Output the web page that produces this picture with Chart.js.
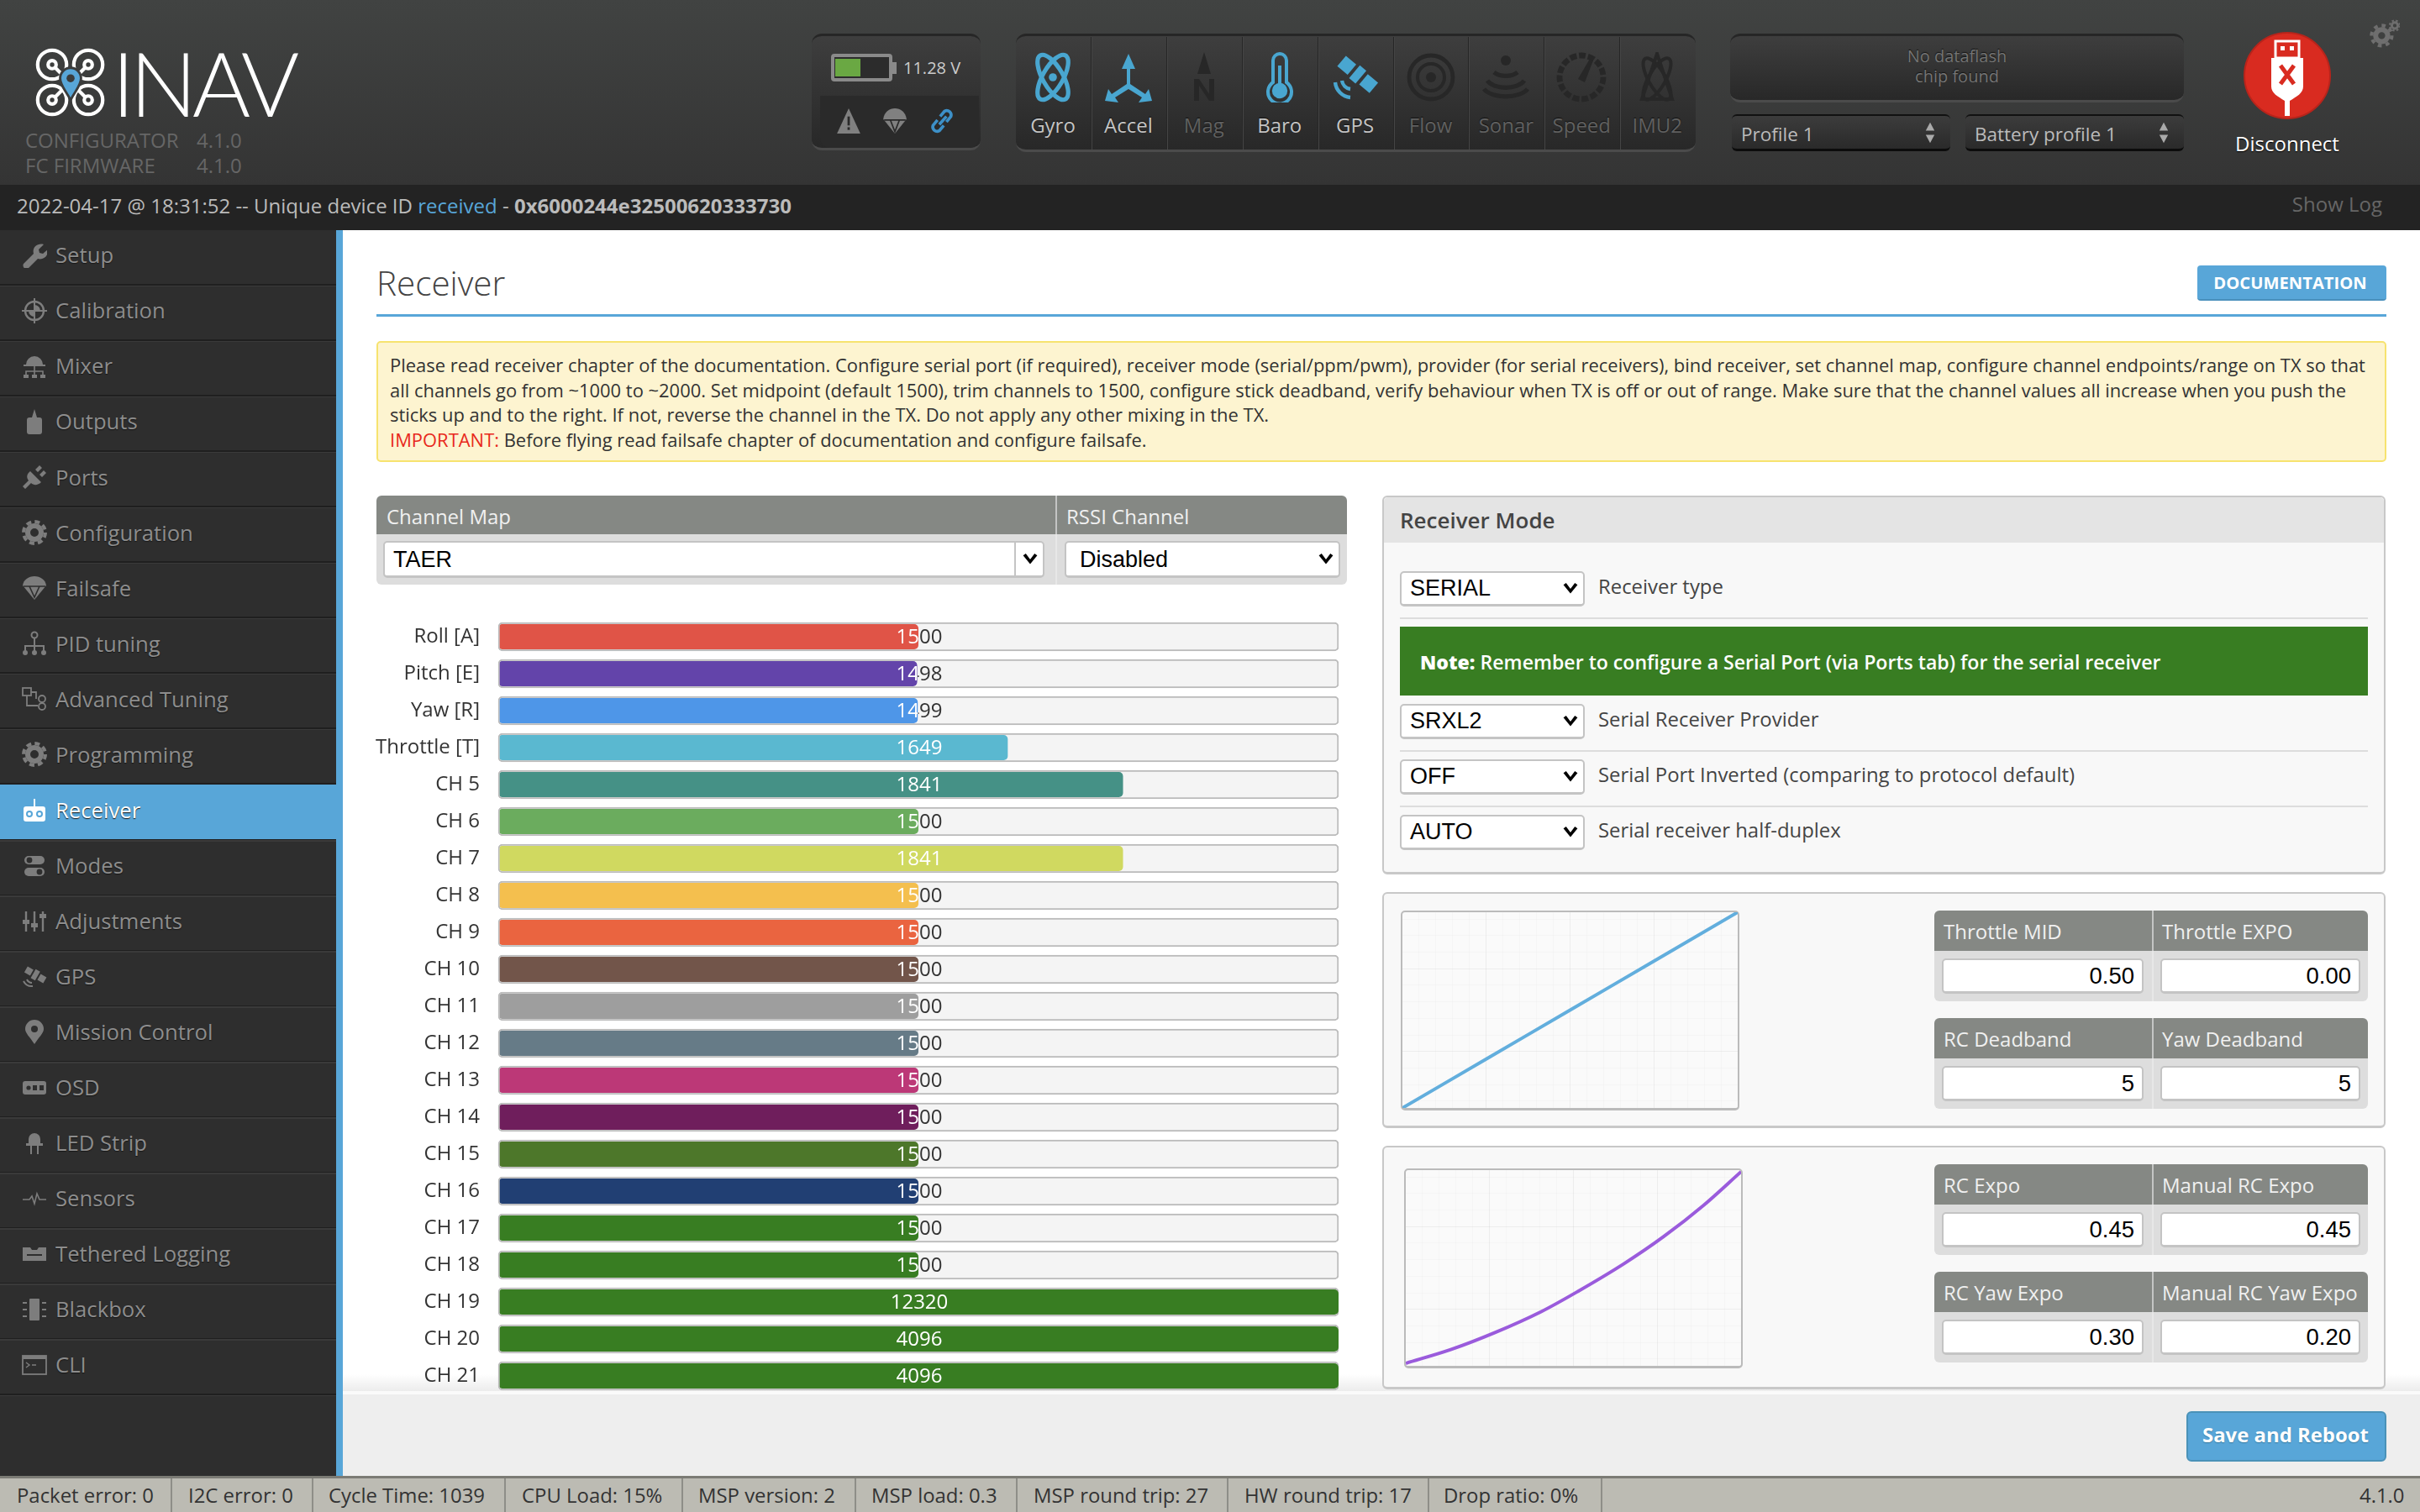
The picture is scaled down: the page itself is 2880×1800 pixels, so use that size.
<!DOCTYPE html>
<html>
<head>
<meta charset="utf-8">
<title>INAV - Receiver</title>
<script src="https://cdn.jsdelivr.net/npm/chart.js@4"></script>
<style>
html, body { margin: 0; width: 2880px; height: 1800px; overflow: hidden; background: #fff; font-family: "Open Sans", sans-serif; color: #333; }
.a { position: absolute; box-sizing: border-box; white-space: pre; }
canvas { position: absolute; display: block; }
</style>
</head>
<body>
<script>
// Channel data read from the receiver tab
const channelLabels = ['Roll [A]', 'Pitch [E]', 'Yaw [R]', 'Throttle [T]', 'CH 5', 'CH 6', 'CH 7', 'CH 8', 'CH 9', 'CH 10', 'CH 11', 'CH 12', 'CH 13', 'CH 14', 'CH 15', 'CH 16', 'CH 17', 'CH 18', 'CH 19', 'CH 20', 'CH 21'];
const channelValues = [1500, 1498, 1499, 1649, 1841, 1500, 1841, 1500, 1500, 1500, 1500, 1500, 1500, 1500, 1500, 1500, 1500, 1500, 12320, 4096, 4096];
const channelMin = 800;
const channelMax = 2200;

// Throttle and RC expo curves
const throttleCurveX = [0, 0.25, 0.5, 0.75, 1];
const throttleCurveY = [0, 0.25, 0.5, 0.75, 1];
const expoCurveX = [0, 0.134, 0.266, 0.404, 0.513, 0.651, 0.769, 0.888, 1];
const expoCurveY = [0.013, 0.083, 0.17, 0.277, 0.38, 0.522, 0.66, 0.82, 0.992];
const curveGridX = [0.05, 0.1, 0.15, 0.2, 0.25, 0.3, 0.35, 0.4, 0.45, 0.5, 0.55, 0.6, 0.65, 0.7, 0.75, 0.8, 0.85, 0.9, 0.95];
const curveGridY = [0.036, 0.12, 0.205, 0.289, 0.373, 0.458, 0.542, 0.627, 0.711, 0.795, 0.88, 0.964];
const curveMajorX = [0.25, 0.5, 0.75];
const curveMajorY = [0.289, 0.711];

// Interface text
const menuItems = ['Setup', 'Calibration', 'Mixer', 'Outputs', 'Ports', 'Configuration', 'Failsafe', 'PID tuning', 'Advanced Tuning', 'Programming', 'Receiver', 'Modes', 'Adjustments', 'GPS', 'Mission Control', 'OSD', 'LED Strip', 'Sensors', 'Tethered Logging', 'Blackbox', 'CLI'];
const sensorNames = ['Gyro', 'Accel', 'Mag', 'Baro', 'GPS', 'Flow', 'Sonar', 'Speed', 'IMU2'];
const statusItems = ['Packet error: 0', 'I2C error: 0', 'Cycle Time: 1039', 'CPU Load: 15%', 'MSP version: 2', 'MSP load: 0.3', 'MSP round trip: 27', 'HW round trip: 17', 'Drop ratio: 0%'];

const channelColors = ['#e05447', '#6344aa', '#4e96e8', '#5ab8d0', '#459186', '#6bac5e', '#d0d960', '#f4bf4e', '#ea6440', '#72554a', '#9e9e9e', '#667b87', '#bc3877', '#6f1e5c', '#4d772a', '#213f73', '#387d22', '#387d22', '#387d22', '#387d22', '#387d22'];
const blue = '#58a6d8';

// Small helpers, everything on the page is placed on the 2880x1800 grid
function box(x, y, w, h, css, html) {
    const el = document.createElement('div');
    el.className = 'a';
    el.style.cssText = `left:${x}px;top:${y}px;width:${w}px;height:${h}px;${css || ''}`;
    if (html) el.innerHTML = html;
    document.body.appendChild(el);
    return el;
}
function text(x, cy, str, size, color, css) {
    const el = document.createElement('div');
    el.className = 'a';
    el.style.cssText = `left:${x}px;top:${cy - size}px;height:${size * 2}px;line-height:${size * 2}px;font-size:${size}px;color:${color};${css || ''}`;
    el.innerHTML = str;
    document.body.appendChild(el);
    return el;
}
function centered(x, w, cy, str, size, color, css) {
    return text(x, cy, str, size, color, `width:${w}px;text-align:center;${css || ''}`);
}
function icon(x, y, size, color, inner) {
    return box(x, y, size, size, `color:${color};`, `<svg width="${size}" height="${size}" viewBox="0 0 30 30" fill="currentColor" stroke="none" style="display:block">${inner}</svg>`);
}
const chevron = '<path d="M6 10l9 11 9-11-3.4-2.4L15 15 9.4 7.6z"/>';
function select(x, y, w, h, label, pad) {
    box(x, y, w, h, 'background:#fff;border:2px solid #c4c4c4;border-bottom-width:3px;border-radius:5px;');
    text(x + (pad || 12), y + h - 22, label, 27, '#000', 'font-family:"Liberation Sans",Arial,sans-serif;');
    icon(x + w - 31, y + h / 2 - 14, 28, '#000', chevron);
}

// Header
box(0, 0, 2880, 220, 'background:linear-gradient(#414342,#343434);');
box(0, 220, 2880, 54, 'background:#232323;');
box(0, 274, 400, 1484, 'background:#2e2e2e;');
box(400, 274, 8, 1484, `background:${blue};`);

// Logo
box(41, 57, 86, 82, '', `<svg width="86" height="82" viewBox="0 0 90 84" fill="none" stroke="#fff" stroke-width="4.4">
<circle cx="22" cy="20" r="18"/><circle cx="22" cy="20" r="5"/><circle cx="67" cy="20" r="18"/><circle cx="67" cy="20" r="5"/>
<circle cx="22" cy="64" r="18"/><circle cx="22" cy="64" r="5"/><circle cx="67" cy="64" r="18"/><circle cx="67" cy="64" r="5"/>
<path d="M26 24l16 16M63 24l-16 16M26 60l16-16M63 60l-16-16"/>
<path d="M45 64c-6-12-13-18-13-27a13 13 0 0 1 26 0c0 9-7 15-13 27z" fill="${blue}" stroke="#3b3c3c" stroke-width="3"/><circle cx="45" cy="37" r="5" fill="#3b3c3c" stroke="none"/></svg>`);
text(133, 98, 'INAV', 106, '#fff', 'font-family:Lato,sans-serif;font-weight:300;letter-spacing:-6px;');
text(30, 167, 'CONFIGURATOR', 24, '#666');
text(234, 167, '4.1.0', 24, '#666');
text(30, 197, 'FC FIRMWARE', 24, '#666');
text(234, 197, '4.1.0', 24, '#666');

// Battery panel
const panelCss = 'background:linear-gradient(#3e3e3e,#282828);border-radius:12px;border-top:3px solid #262626;border-bottom:3px solid #4b4b4b;';
box(966, 40, 201, 139, panelCss);
box(976, 114, 189, 62, 'background:#2a2a2a;border-radius:0 0 12px 12px;');
box(989, 64, 73, 33, 'border:4px solid #8a8a8a;border-radius:4px;background:#2c2c2c;');
box(1062, 74, 5, 14, 'background:#8a8a8a;');
box(994, 70, 30, 21, 'background:#6aa843;');
text(1075, 81, '11.28 V', 20, '#ccc');
icon(994, 128, 32, '#808080', '<path d="M15 1l13 28H2z"/><rect x="13.7" y="10" width="2.6" height="10" fill="#2a2a2a"/><rect x="13.7" y="22" width="2.6" height="3" fill="#2a2a2a"/>');
icon(1049, 128, 32, '#808080', '<path d="M2 13C3 5 9 1 15 1s12 4 13 12l-13 16z"/><path d="M3 14h24M10 14l5 13 5-13" stroke="#2a2a2a" stroke-width="1.6" fill="none"/>');
icon(1105, 128, 32, '#3d90c8', '<path d="M12 19l8-9M10 14l-5 6a5 5 0 0 0 7 6l5-6M20 16l5-6a5 5 0 0 0-7-6l-5 6" stroke="#3d90c8" stroke-width="3.4" fill="none"/>');

// Sensor panel, separators are spaced one cell apart
box(1209, 40, 809, 141, panelCss);
const sensorOn = '#49a6d0';
const sensorOff = '#272727';
const sensorIcons = [
    '<g fill="none" stroke="currentColor" stroke-width="2.6"><ellipse cx="15" cy="15" rx="6" ry="15" transform="rotate(30 15 15)"/><ellipse cx="15" cy="15" rx="6" ry="15" transform="rotate(-30 15 15)"/></g><circle cx="15" cy="15" r="2.4"/>',
    '<path d="M15 1l4 9h-3v9l9 6 2-3 2 7-8 1 2-3-8-5-8 5 2 3-8-1 2-7 2 3 9-6v-9h-3z"/>',
    '<path d="M15 0l4 13h-8zM9 16h3l6 9v-9h3v13h-3l-6-9v9H9z"/>',
    '<path d="M15 1a4 4 0 0 1 4 4v13a7 7 0 1 1-8 0V5a4 4 0 0 1 4-4z" fill="none" stroke="currentColor" stroke-width="2"/><circle cx="15" cy="23" r="4.6"/><rect x="14" y="8" width="2" height="12"/>',
    '<g transform="rotate(40 16 13)"><rect x="4" y="9" width="8" height="8"/><rect x="14" y="8" width="5" height="10"/><rect x="21" y="9" width="8" height="8"/></g><path d="M3 18a10 10 0 0 0 9 9M7 17a6 6 0 0 0 5 5" fill="none" stroke="currentColor" stroke-width="2.2"/>',
    '<g fill="none" stroke="currentColor"><circle cx="15" cy="15" r="13" stroke-width="2.4"/><circle cx="15" cy="15" r="8" stroke-width="2"/></g><circle cx="15" cy="15" r="3"/>',
    '<circle cx="15" cy="5" r="3"/><path d="M8 12a9 6 0 0 0 14 0M4 17a12 7 0 0 0 22 0M2 22a14 7 0 0 0 26 0" fill="none" stroke="currentColor" stroke-width="2.6"/>',
    '<circle cx="15" cy="15" r="13" fill="none" stroke="currentColor" stroke-width="3.4" stroke-dasharray="4 1.4"/><path d="M13 16l7-12 2 1-5 13z"/>',
    '<g fill="none" stroke="currentColor" stroke-width="2"><ellipse cx="15" cy="16" rx="5" ry="14" transform="rotate(30 15 16)"/><ellipse cx="15" cy="16" rx="5" ry="14" transform="rotate(-30 15 16)"/><path d="M15 1l9 27H6z"/></g>'
];
const sensorActive = [true, true, false, true, true, false, false, false, false];
sensorNames.forEach(function(name, i) {
    const x = 1209 + i * 89.9;
    if (i > 0) box(x - 1, 44, 2, 134, 'background:#262626;border-right:1px solid #454545;');
    const on = sensorActive[i];
    icon(x + 14, 62, 60, on ? sensorOn : sensorOff, sensorIcons[i]);
    centered(x - 1, 90, 149, name, 24, on ? '#c4c4c4' : '#606060', 'text-shadow:0 -1px 1px #111;');
});

// Dataflash and profile selectors
box(2059, 40, 540, 82, panelCss);
centered(2059, 540, 67, 'No dataflash', 20, '#747474', 'text-shadow:0 -1px 1px #111;');
centered(2059, 540, 91, 'chip found', 20, '#747474', 'text-shadow:0 -1px 1px #111;');
[[2061, 'Profile 1'], [2339, 'Battery profile 1']].forEach(function(p) {
    box(p[0], 136, 260, 44, 'background:linear-gradient(#3c3c3c,#2a2a2a);border-radius:6px;border-top:2px solid #111;border-bottom:3px solid #0c0c0c;');
    text(p[0] + 11, 159, p[1], 22.5, '#bbb');
    icon(p[0] + 223, 145, 26, '#aaa', '<path d="M15 1l6 11H9zM15 29l6-11H9z"/>');
});

// Disconnect button
box(2670, 38, 104, 104, 'background:#d92b20;border-radius:50%;border:2px solid #b8241b;');
box(2698, 46, 48, 92, '', `<svg width="48" height="92" viewBox="0 0 48 92"><rect x="10" y="3" width="28" height="20" fill="none" stroke="#fff" stroke-width="3"/><rect x="16" y="9" width="5" height="5" fill="#fff"/><rect x="27" y="9" width="5" height="5" fill="#fff"/><path d="M5 23h38v34c0 8-8 12-16 17v18h-6V74C13 69 5 65 5 57z" fill="#fff"/><path d="M16 32l16 22M32 32L16 54" stroke="#d92b20" stroke-width="5"/></svg>`);
centered(2622, 200, 171, 'Disconnect', 24, '#fff', 'text-shadow:0 1px 1px #000;');
icon(2820, 22, 36, '#6e6e6e', '<circle cx="12" cy="17" r="6" fill="none" stroke="currentColor" stroke-width="5"/><circle cx="12" cy="17" r="10" fill="none" stroke="currentColor" stroke-width="3.5" stroke-dasharray="3.8 4"/><circle cx="25" cy="7" r="3" fill="none" stroke="currentColor" stroke-width="2.4"/><circle cx="25" cy="7" r="5" fill="none" stroke="currentColor" stroke-width="1.8" stroke-dasharray="2 2"/>');

// Log line
text(20, 245, '2022-04-17 @ 18:31:52 -- Unique device ID <span style="color:#58a6d8">received</span> - <b>0x6000244e32500620333730</b>', 24, '#bbb');
text(2722, 243, 'Show Log', 24, '#666', 'width:113px;text-align:right;');

// Sidebar menu
const menuIcons = [
    '<path d="M2 25L14 13c-2-7 4-13 12-11l-6 6 1 4 4 1 6-5c1 8-6 13-12 11L7 31c-3 2-7-3-5-6z"/>',
    '<circle cx="15" cy="15" r="11" fill="none" stroke="currentColor" stroke-width="2.4"/><path d="M15 0v30M0 15h30" stroke="currentColor" stroke-width="2"/><path d="M15 8a7 7 0 0 1 7 7h-7zM15 22a7 7 0 0 1-7-7h7z"/>',
    '<path d="M5 13a10 10 0 0 1 20 0h3v2H2v-2z"/><path d="M15 15v5M5 26v-5h20v5M15 20v5" stroke="currentColor" stroke-width="1.6" fill="none"/><rect x="2" y="25" width="6" height="4"/><rect x="12" y="25" width="6" height="4"/><rect x="22" y="25" width="6" height="4"/>',
    '<path d="M15 0l3 10h3a3 3 0 0 1 3 3v14a3 3 0 0 1-3 3H9a3 3 0 0 1-3-3V13a3 3 0 0 1 3-3h3z"/>',
    '<path d="M10 8l13 13c-4 4-9 4-12 1l-7 7-3-3 7-7c-3-4-2-8 2-11zM16 6l5-5 3 3-5 5zM21 12l5-5 3 3-5 5z"/>',
    '<circle cx="15" cy="15" r="8" fill="none" stroke="currentColor" stroke-width="6"/><circle cx="15" cy="15" r="13" fill="none" stroke="currentColor" stroke-width="4" stroke-dasharray="6 4.2"/>',
    '<path d="M1 12C2 5 8 1 15 1s13 4 14 11L15 29z"/><path d="M2 13h26M9 13l6 13 6-13" stroke="#2e2e2e" stroke-width="1.6" fill="none"/>',
    '<circle cx="15" cy="5" r="3.5" fill="none" stroke="currentColor" stroke-width="2"/><path d="M15 8v9M4 24v-6h22v6M15 17v7" stroke="currentColor" stroke-width="2" fill="none"/><circle cx="4" cy="26" r="3"/><circle cx="15" cy="26" r="3"/><circle cx="26" cy="26" r="3"/>',
    '<g fill="none" stroke="currentColor" stroke-width="1.8"><rect x="1" y="2" width="10" height="9"/><path d="M11 7h6v8M6 11v12h13"/><circle cx="24" cy="15" r="4"/><circle cx="24" cy="24" r="4"/></g>',
    '<circle cx="15" cy="15" r="8" fill="none" stroke="currentColor" stroke-width="6"/><circle cx="15" cy="15" r="13" fill="none" stroke="currentColor" stroke-width="4" stroke-dasharray="6 4.2"/>',
    '<rect x="14" y="1" width="2" height="10"/><rect x="2" y="10" width="26" height="18" rx="3"/><circle cx="9" cy="19" r="3" fill="none" stroke="#58a6d8" stroke-width="2"/><circle cx="21" cy="19" r="3" fill="none" stroke="#58a6d8" stroke-width="2"/>',
    '<rect x="3" y="3" width="24" height="10" rx="5"/><rect x="3" y="17" width="24" height="10" rx="5"/><circle cx="9" cy="8" r="3.4" fill="#2e2e2e"/><circle cx="21" cy="22" r="3.4" fill="#2e2e2e"/>',
    '<path d="M5 3v24M15 3v24M25 3v24" stroke="currentColor" stroke-width="2.4"/><rect x="1" y="13" width="8" height="5"/><rect x="11" y="17" width="8" height="5"/><rect x="21" y="6" width="8" height="5"/>',
    '<g transform="rotate(30 17 13)"><rect x="3" y="9" width="8" height="8"/><rect x="13" y="7" width="6" height="12"/><rect x="21" y="9" width="8" height="8"/></g><path d="M2 20a11 11 0 0 0 11 6M6 18a7 7 0 0 0 6 4" fill="none" stroke="currentColor" stroke-width="2"/>',
    '<path d="M15 29C10 21 4 16 4 11a11 11 0 0 1 22 0c0 5-6 10-11 18z"/><circle cx="15" cy="11" r="4" fill="#2e2e2e"/>',
    '<rect x="1" y="7" width="28" height="16" rx="3"/><circle cx="8" cy="15" r="2.6" fill="#2e2e2e"/><rect x="13" y="12" width="5" height="6" fill="#2e2e2e"/><rect x="21" y="12" width="5" height="6" fill="#2e2e2e"/>',
    '<path d="M8 15V10a7 7 0 0 1 14 0v5h3v3H5v-3z"/><rect x="10" y="18" width="2" height="10"/><rect x="18" y="18" width="2" height="10"/>',
    '<path d="M1 16h8l3-4 3 9 3-12 3 7h8" fill="none" stroke="currentColor" stroke-width="1.6"/>',
    '<path d="M1 7h9l2 3h6l2-3h9v16H1z"/><rect x="6" y="15" width="18" height="2" fill="#2e2e2e"/>',
    '<rect x="9" y="2" width="12" height="26" rx="1"/><path d="M1 7h5M1 15h5M1 23h5M24 7h5M24 15h5M24 23h5" stroke="currentColor" stroke-width="2"/>',
    '<rect x="1" y="4" width="28" height="22" fill="none" stroke="currentColor" stroke-width="1.8"/><rect x="1" y="4" width="28" height="4"/><path d="M5 12l4 3-4 3M12 15h5" stroke="currentColor" stroke-width="1.4" fill="none"/>'
];
menuItems.forEach(function(name, i) {
    const top = 274 + i * 66.05;
    const active = name === 'Receiver';
    if (active) box(0, top - 0.5, 400, 65, `background:${blue};`);
    box(0, top + 64, 400, 1.5, 'background:#1f1f1f;');
    box(0, top + 65.5, 400, 1.5, 'background:#3a3a3a;');
    icon(26, top + 15, 30, active ? '#fff' : '#7d7d7d', menuIcons[i]);
    text(66, top + 30, name, 25.7, active ? '#fff' : '#8d8d8d', 'text-shadow:0 1px 1px #161616;');
});

// Main title and notice
text(448, 337, 'Receiver', 40.4, '#444', 'font-weight:300;');
box(448, 374, 2392, 3, `background:${blue};`);
box(2615, 316, 225, 42, `background:${blue};border-radius:4px;border-bottom:2px solid #4a90bc;`);
centered(2613, 225, 336, 'DOCUMENTATION', 20.2, '#fff', 'font-weight:700;');
box(448, 406, 2392, 144, 'background:#fdf4d0;border:2px solid #f7e36f;border-radius:5px;');
const noticeLines = [
    'Please read receiver chapter of the documentation. Configure serial port (if required), receiver mode (serial/ppm/pwm), provider (for serial receivers), bind receiver, set channel map, configure channel endpoints/range on TX so that',
    'all channels go from ~1000 to ~2000. Set midpoint (default 1500), trim channels to 1500, configure stick deadband, verify behaviour when TX is off or out of range. Make sure that the channel values all increase when you push the',
    'sticks up and to the right. If not, reverse the channel in the TX. Do not apply any other mixing in the TX.',
    '<span style="color:#e8291c">IMPORTANT:</span> Before flying read failsafe chapter of documentation and configure failsafe.'
];
noticeLines.forEach(function(line, i) { text(464, 435 + i * 29.5, line, 21.95, '#333'); });

// Channel map table
box(448, 590, 1155, 46, 'background:#858884;border-radius:6px 6px 0 0;');
box(448, 636, 1155, 60, 'background:#ddd;border-radius:0 0 6px 6px;');
box(1256, 590, 2, 106, 'background:#eee;opacity:.6;');
text(460, 615, 'Channel Map', 24, '#f0f0f0');
text(1269, 615, 'RSSI Channel', 24, '#f0f0f0');
select(456, 644, 787, 44, 'TAER');
box(1207, 646, 2, 40, 'background:#c4c4c4;');
select(1267, 644, 328, 44, 'Disabled', 18);

// Bottom fade of the scrolling area, under the panels and bars
box(408, 1636, 2472, 20, 'background:linear-gradient(rgba(240,240,240,0),#ececec);');

// Receiver mode panel
const panelBox = 'background:#f8f8f8;border:2px solid #c8c8c8;border-bottom-width:3px;border-radius:6px;';
box(1645, 590, 1194, 451, panelBox);
box(1647, 592, 1190, 54, 'background:#e4e4e4;border-radius:5px 5px 0 0;');
text(1666, 619, 'Receiver Mode', 26, '#444', 'font-weight:600;');
[[680, 'SERIAL', 'Receiver type'], [838, 'SRXL2', 'Serial Receiver Provider'], [904, 'OFF', 'Serial Port Inverted (comparing to protocol default)'], [970, 'AUTO', 'Serial receiver half-duplex']].forEach(function(row) {
    select(1666, row[0], 220, 42, row[1]);
    text(1902, row[0] + 18, row[2], 23.9, '#444');
});
[735, 893, 959].forEach(function(y) { box(1666, y, 1152, 2, 'background:#ddd;'); });
box(1666, 746, 1152, 82, 'background:#387d22;');
text(1690, 788, '<b>Note:</b> Remember to configure a Serial Port (via Ports tab) for the serial receiver', 23.1, '#fff', 'font-weight:600;');

// Curve panels and their tables
box(1645, 1062, 1194, 281, panelBox);
box(1645, 1364, 1194, 290, panelBox);
function inputTable(top, left, right) {
    box(2302, top, 516, 48, 'background:#858884;border-radius:6px 6px 0 0;');
    box(2302, top + 48, 516, 60, 'background:#ddd;border-radius:0 0 6px 6px;');
    box(2561, top, 2, 108, 'background:#eee;opacity:.6;');
    [[2311, 240, left], [2571, 238, right]].forEach(function(c) {
        box(c[0], top + 57, c[1], 42, 'background:#fff;border:2px solid #c4c4c4;border-bottom-width:3px;border-radius:5px;');
        text(c[0] + 11, top + 77, c[2][1], 27.5, '#000', `width:${c[1] - 22}px;text-align:right;font-family:"Liberation Sans",Arial,sans-serif;`);
    });
    text(2313, top + 25, left[0], 24, '#f0f0f0');
    text(2573, top + 25, right[0], 24, '#f0f0f0');
}
inputTable(1084, ['Throttle MID', '0.50'], ['Throttle EXPO', '0.00']);
inputTable(1212, ['RC Deadband', '5'], ['Yaw Deadband', '5']);
inputTable(1386, ['RC Expo', '0.45'], ['Manual RC Expo', '0.45']);
inputTable(1514, ['RC Yaw Expo', '0.30'], ['Manual RC Yaw Expo', '0.20']);

function curveChart(x, y, xs, ys, color) {
    box(x, y, 403, 238, 'background:#fafafa;border:2px solid #bbb;border-bottom-width:3px;border-radius:5px;');
    const canvas = document.createElement('canvas');
    canvas.width = 399;
    canvas.height = 233;
    canvas.style.left = (x + 2) + 'px';
    canvas.style.top = (y + 2) + 'px';
    document.body.appendChild(canvas);
    const gridScale = function(ticks, majors) {
        return {
            type: 'linear', min: 0, max: 1,
            border: { display: false },
            ticks: { display: false },
            afterBuildTicks: function(scale) { scale.ticks = ticks.map(v => ({ value: v })); },
            grid: {
                drawTicks: false,
                color: ctx => majors.includes(ctx.tick.value) ? 'rgba(0,0,0,0.05)' : 'rgba(0,0,0,0.02)'
            }
        };
    };
    new Chart(canvas.getContext('2d'), {
        type: 'line',
        data: { datasets: [{ data: xs.map((v, i) => ({ x: v, y: ys[i] })), borderColor: color, borderWidth: 4, pointRadius: 0, cubicInterpolationMode: 'monotone' }] },
        options: {
            responsive: false,
            animation: false,
            plugins: { legend: { display: false }, tooltip: { enabled: false } },
            scales: { x: gridScale(curveGridX, curveMajorX), y: gridScale(curveGridY, curveMajorY) }
        }
    });
}
curveChart(1667, 1084, throttleCurveX, throttleCurveY, '#62aedd');
curveChart(1671, 1391, expoCurveX, expoCurveY, '#9a5bdc');

// Channel bars. The label sits in the middle of the track and changes colour where the bar ends
const barLabels = {
    id: 'barLabels',
    afterDatasetsDraw: function(chart) {
        const ctx = chart.ctx;
        const area = chart.chartArea;
        const centre = (area.left + area.right) / 2 + 1;
        chart.getDatasetMeta(0).data.forEach(function(bar, i) {
            ctx.save();
            ctx.font = '24px "Open Sans"';
            ctx.textAlign = 'center';
            ctx.textBaseline = 'middle';
            ctx.save();
            ctx.beginPath();
            ctx.rect(bar.x, bar.y - 20, area.right - bar.x, 40);
            ctx.clip();
            ctx.fillStyle = '#333';
            ctx.fillText(channelValues[i], centre, bar.y + 1);
            ctx.restore();
            ctx.beginPath();
            ctx.rect(area.left, bar.y - 20, bar.x - area.left, 40);
            ctx.clip();
            ctx.fillStyle = '#fff';
            ctx.fillText(channelValues[i], centre, bar.y + 1);
            ctx.restore();
        });
    }
};
const barHolder = box(440, 736, 1160, 920, 'overflow:hidden;');
const barCanvas = document.createElement('canvas');
barCanvas.width = 1153;
barCanvas.height = 924;
barCanvas.style.left = '0px';
barCanvas.style.top = '0px';
barHolder.appendChild(barCanvas);
new Chart(barCanvas.getContext('2d'), {
    type: 'bar',
    data: {
        labels: channelLabels,
        datasets: [
            {
                label: 'Value',
                data: channelValues.map(v => Math.min(v, channelMax)),
                base: channelMin,
                backgroundColor: channelColors,
                borderColor: 'rgba(0,0,0,0)',
                borderWidth: { left: 2, right: 0, top: 0, bottom: 0 },
                borderSkipped: false,
                borderRadius: 5,
                barThickness: 30,
                grouped: false,
                order: 1,
                clip: false
            },
            {
                label: 'Range',
                data: channelValues.map(() => channelMax),
                base: channelMin,
                backgroundColor: '#f4f4f4',
                borderColor: '#bbb',
                borderWidth: 2,
                borderSkipped: false,
                borderRadius: 5,
                barThickness: 34,
                grouped: false,
                order: 2,
                clip: false
            }
        ]
    },
    options: {
        indexAxis: 'y',
        responsive: false,
        animation: false,
        layout: { padding: 0 },
        plugins: { legend: { display: false }, tooltip: { enabled: false } },
        scales: {
            x: { display: false, min: channelMin, max: channelMax },
            y: {
                // fixed gutter for the channel names, and no extra padding above or below the rows
                afterFit: function(scale) {
                    scale.width = 153;
                    scale.paddingTop = 0;
                    scale.paddingBottom = 0;
                },
                border: { display: false },
                grid: { display: false, drawTicks: false },
                ticks: { autoSkip: false, padding: 22, color: '#333', font: { family: 'Open Sans', size: 24 } }
            }
        }
    },
    plugins: [barLabels]
});

// Footer
box(408, 1656, 2472, 4, 'background:#fafafa;');
box(408, 1660, 2472, 97, 'background:#eee;');
box(2602, 1680, 238, 60, `background:${blue};border:2px solid #4a92b8;border-radius:6px;`);
centered(2601, 238, 1708, 'Save and Reboot', 23.9, '#fff', 'font-weight:700;text-shadow:0 1px 1px #3a7ba0;');

// Status bar
box(0, 1757, 2880, 43, 'background:#bcbbb3;border-top:3px solid #7b7b75;');
const statusStarts = [20, 224, 391, 621, 831, 1037, 1230, 1481, 1718];
const statusSeparators = [203, 371, 600, 811, 1017, 1209, 1460, 1699, 1905];
statusItems.forEach(function(item, i) {
    text(statusStarts[i], 1780, item, 23.9, '#333');
    box(statusSeparators[i], 1760, 1.5, 40, 'background:#8e8e88;');
});
text(2808, 1780, '4.1.0', 23.9, '#333');
</script>
</body>
</html>
